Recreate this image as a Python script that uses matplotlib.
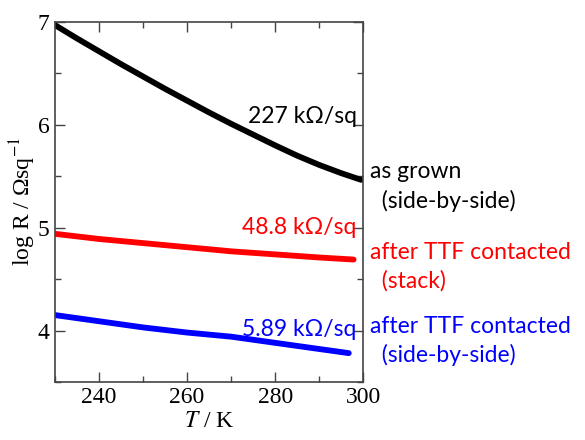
import matplotlib.pyplot as plt
from matplotlib.ticker import MultipleLocator

plt.rcParams['mathtext.fontset'] = 'stix'

# dados
T_grown = [230, 235, 240, 245, 250, 255, 260, 265, 270, 275, 280, 285, 290, 295, 299.5]
logR_grown = [6.97, 6.84, 6.715, 6.59, 6.47, 6.35, 6.235, 6.12, 6.01, 5.905,
              5.80, 5.70, 5.61, 5.53, 5.465]

T_stack = [230, 240, 250, 260, 265, 270, 280, 290, 297.8]
logR_stack = [4.94, 4.89, 4.85, 4.81, 4.79, 4.77, 4.74, 4.71, 4.69]

T_side = [230, 240, 250, 260, 265, 270, 280, 290, 296.7]
logR_side = [4.15, 4.09, 4.03, 3.98, 3.96, 3.94, 3.88, 3.82, 3.78]

values = ['227 kΩ/sq', '48.8 kΩ/sq', '5.89 kΩ/sq']
names = ['as grown\n  (side-by-side)', 'after TTF contacted\n  (stack)',
         'after TTF contacted\n  (side-by-side)']
cores = ['black', 'red', 'blue']

fig = plt.figure(figsize=(5.85, 4.4), dpi=100)
ax = fig.add_axes([0.094, 0.132, 0.527, 0.818])

for T, R, c in zip([T_grown, T_stack, T_side], [logR_grown, logR_stack, logR_side], cores):
    ax.plot(T, R, color=c, lw=4.2, solid_capstyle='round', solid_joinstyle='round')

ax.set_xlim(230, 300)
ax.set_ylim(3.5, 7)
ax.xaxis.set_major_locator(MultipleLocator(20))
ax.xaxis.set_minor_locator(MultipleLocator(10))
ax.yaxis.set_major_locator(MultipleLocator(1))
ax.yaxis.set_minor_locator(MultipleLocator(0.5))
ax.tick_params(which='both', direction='in', top=True, right=True, width=1, color='#444444')
ax.tick_params(which='major', length=7, labelsize=17, pad=4)
ax.tick_params(which='minor', length=4)
for s in ax.spines.values():
    s.set_color('#444444')
    s.set_linewidth(1.2)
for lab in ax.get_xticklabels() + ax.get_yticklabels():
    lab.set_family('Liberation Serif')

ax.set_xlabel('$T$ / K', family='Liberation Serif', fontsize=17, labelpad=2)
ax.set_ylabel('log R / Ωsq$^{-1}$', family='Liberation Serif', fontsize=17, labelpad=0)

# rotulos
fonte = 'Lato'
val_y = [6.08, 5.0, 4.01]
name_y = [5.4, 4.62, 3.9]
for v, n, c, vy, ny in zip(values, names, cores, val_y, name_y):
    ax.text(298.5, vy, v, color=c, fontsize=16.5, family=fonte, ha='right', va='center')
    ax.text(301.5, ny, n, color=c, fontsize=16.5, family=fonte, ha='left', va='center',
            linespacing=1.4, clip_on=False)

plt.savefig('out.png')
